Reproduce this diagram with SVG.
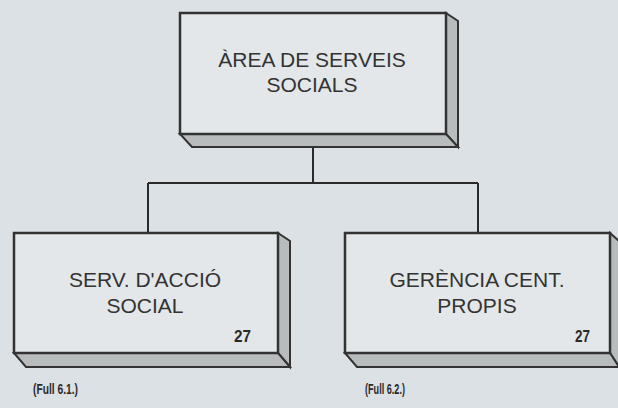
<svg xmlns="http://www.w3.org/2000/svg" width="618" height="408" viewBox="0 0 618 408">
<style>
.front{fill:#e3e7e9;stroke:#333;stroke-width:2.5}
.side{fill:#b9bcbd;stroke:#333;stroke-width:2}
.conn{fill:none;stroke:#2a2a2a;stroke-width:2}
.lbl{font-family:"Liberation Sans",Arial,sans-serif;font-size:21px;fill:#333;text-anchor:middle}
.num{font-family:"Liberation Sans",Arial,sans-serif;font-size:16px;font-weight:bold;fill:#2a2a2a}
.ref{font-family:"Liberation Sans",Arial,sans-serif;font-size:15px;font-weight:bold;fill:#2a2a2a}
</style>
<rect width="618" height="408" fill="#dbe1e4"/>
<g id="connectors">
<path class="conn" d="M313 147 V183 M148 183 H478 M148 183 V233 M478 183 V233"/>
</g>
<g id="area">
<polygon class="side" points="446,13 458,21 458,147 446,134"/>
<polygon class="side" points="180,134 446,134 458,147 192,147"/>
<rect class="front" x="180" y="13" width="266" height="121"/>
<text class="lbl" x="312" y="67">ÀREA DE SERVEIS</text>
<text class="lbl" x="312" y="92">SOCIALS</text>
</g>
<g id="serv">
<polygon class="side" points="278,233 290,241 290,367 278,353"/>
<polygon class="side" points="14,353 278,353 290,367 26,367"/>
<rect class="front" x="14" y="233" width="264" height="120"/>
<text class="lbl" x="145" y="287">SERV. D'ACCIÓ</text>
<text class="lbl" x="145" y="313">SOCIAL</text>
<text class="num" x="234" y="342" textLength="17" lengthAdjust="spacingAndGlyphs">27</text>
</g>
<g id="gerencia">
<polygon class="side" points="610,233 619,241 619,367 610,353"/>
<polygon class="side" points="345,353 610,353 619,367 357,367"/>
<rect class="front" x="345" y="233" width="265" height="120"/>
<text class="lbl" x="477" y="287">GERÈNCIA CENT.</text>
<text class="lbl" x="477" y="313">PROPIS</text>
<text class="num" x="575" y="342" textLength="15" lengthAdjust="spacingAndGlyphs">27</text>
</g>
<text class="ref" x="33" y="394" textLength="45" lengthAdjust="spacingAndGlyphs">(Full 6.1.)</text>
<text class="ref" x="365" y="394" textLength="40" lengthAdjust="spacingAndGlyphs">(Full 6.2.)</text>
</svg>
